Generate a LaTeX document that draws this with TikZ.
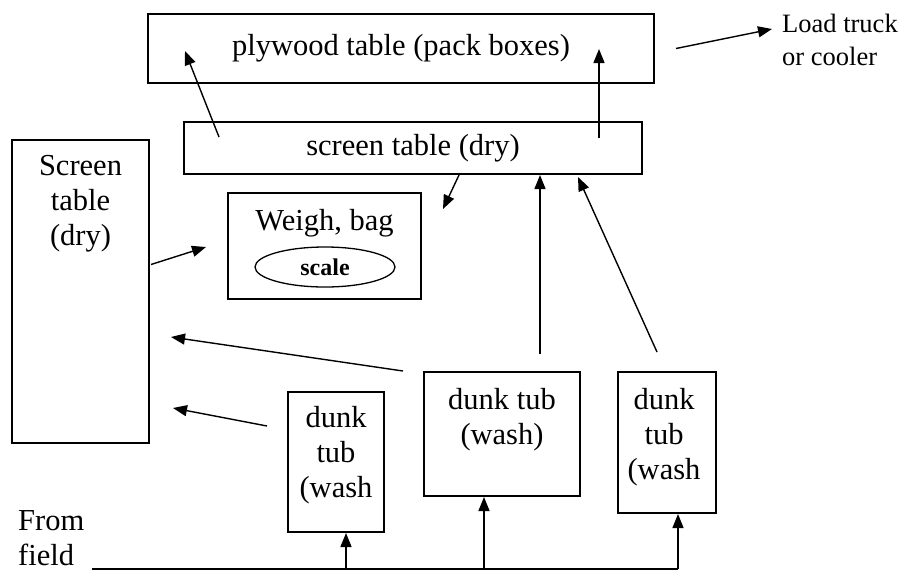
\documentclass[tikz,border=0pt]{standalone}
\usepackage{fontspec}
\setmainfont{Liberation Serif}
\usetikzlibrary{arrows.meta,shapes.geometric,positioning}

\tikzset{
    tabl/.style={draw, line width=2pt, inner sep=0pt},
    lbl/.style={font=\fontsize{30.5}{35}\selectfont, align=center, inner sep=0pt},
    flow/.style={line width=1.4pt, -{Triangle[length=14pt,width=11pt]}}
}

\begin{document}
\begin{tikzpicture}[x=1pt, y=-1pt]
    \useasboundingbox (0,0) rectangle (917,571);

    % tables
    \node [tabl, lbl, minimum width=506, minimum height=69] (plywood) at (401,48.5) {plywood table (pack boxes)};
    \node [tabl, lbl, minimum width=458, minimum height=52] (screen) at (413,148) {screen table (dry)};
    \node [tabl, minimum width=137, minimum height=303] (side) at (80.5,291.5) {};
    \node [lbl, below=16pt of side.north] (sidetext) {Screen\\table\\(dry)};

    % weigh station
    \node [tabl, minimum width=193, minimum height=106] (weigh) at (324.5,246) {};
    \node [lbl, below=17pt of weigh.north] (weightext) {Weigh, bag};
    \node [draw, ellipse, line width=1.3pt, inner sep=0pt, minimum width=140, minimum height=40,
           font=\fontsize{24}{28}\selectfont\bfseries] (scale) at (325,267) {scale};

    % dunk tubs
    \node [tabl, minimum width=96, minimum height=140] (tub1) at (336,462) {};
    \node [tabl, minimum width=156, minimum height=124] (tub2) at (502,434) {};
    \node [tabl, minimum width=98, minimum height=141] (tub3) at (667,442.5) {};
    \node [lbl, below=15pt of tub1.north] (tub1text) {dunk\\tub\\(wash};
    \node [lbl, below=17pt of tub2.north] (tub2text) {dunk tub\\(wash)};
    \node [lbl, below=17pt of tub3.north, xshift=-3pt] (tub3text) {dunk\\tub\\(wash};

    % outside
    \node [lbl, font=\fontsize{26.5}{33}\selectfont, align=left, anchor=north west] (load) at (782,14) {Load truck\\or cooler};
    \node [lbl, align=left, anchor=north west] (field) at (18,510) {From\\field};
    \coordinate (feed) at (92,569);

    % from field
    \draw [line width=1.6pt] (feed) -- ([xshift=11pt]tub3.south |- feed);
    \draw [flow] ([xshift=10pt]tub1.south |- feed) -- ([xshift=10pt]tub1.south);
    \draw [flow] ([xshift=-18pt]tub2.south |- feed) -- ([xshift=-18pt]tub2.south);
    \draw [flow] ([xshift=11pt]tub3.south |- feed) -- ([xshift=11pt]tub3.south);

    % tubs to tables
    \draw [flow] ([shift={(38,-17)}]tub2.north) -- ([xshift=127pt]screen.south);
    \draw [flow] ([shift={(-10,-19)}]tub3.north) -- ([shift={(-65,2)}]screen.south east);
    \draw [flow] ([shift={(-20,0)}]tub2.north west) -- ([shift={(21,45.5)}]side.east);
    \draw [flow] ([shift={(-20,-36)}]tub1.west) -- ([shift={(23,116.5)}]side.east);

    % tables to weigh and pack
    \draw [flow] ([shift={(1,-27)}]side.east) -- ([shift={(-21,1)}]weigh.west);
    \draw [flow] ([xshift=276pt]screen.south west) -- ([shift={(21,17)}]weigh.north east);
    \draw [flow] ([shift={(36,16)}]screen.north west) -- ([shift={(38,38)}]plywood.north west);
    \draw [flow] ([shift={(-44,17)}]screen.north east) -- ([shift={(-56,36)}]plywood.north east);
    \draw [flow] ([xshift=21pt]plywood.east) -- ([shift={(-10,15)}]load.north west);
\end{tikzpicture}
\end{document}
